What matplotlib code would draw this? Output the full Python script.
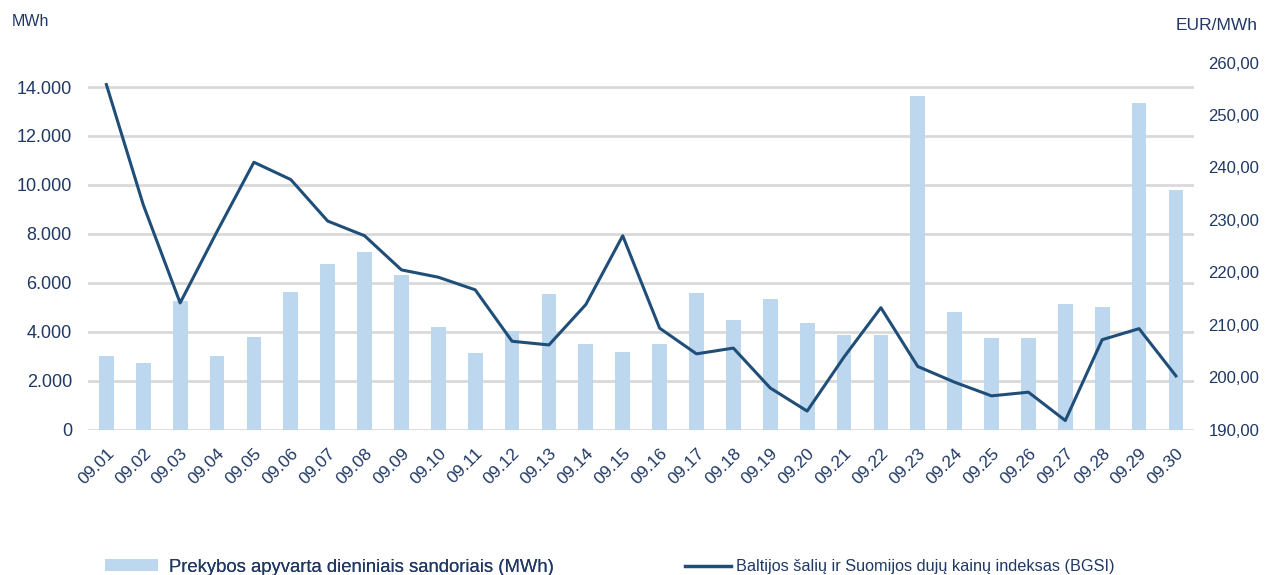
import matplotlib
matplotlib.use("Agg")
import matplotlib.pyplot as plt
from matplotlib.patches import Patch
from matplotlib.lines import Line2D
from matplotlib.ticker import FuncFormatter

plt.rcParams['font.family'] = ['Liberation Sans', 'DejaVu Sans']

dates = ["09.%02d" % d for d in range(1, 31)]
volume_mwh = [3000, 2750, 5270, 3000, 3800, 5630, 6780, 7250, 6310, 4210,
              3150, 4050, 5550, 3510, 3170, 3490, 5600, 4500, 5340, 4370,
              3880, 3880, 13650, 4820, 3750, 3770, 5140, 5030, 13340, 9810]
bgsi_price = [255.8, 232.9, 214.2, 227.8, 241.0, 237.7, 229.8, 227.0, 220.5, 219.1,
              216.7, 206.9, 206.2, 213.9, 227.0, 209.4, 204.5, 205.6, 198.0, 193.6,
              203.9, 213.3, 202.1, 199.1, 196.5, 197.2, 191.8, 207.2, 209.3, 200.3]

bar_label = "Prekybos apyvarta dieniniais sandoriais (MWh)"
line_label = "Baltijos šalių ir Suomijos dujų kainų indeksas (BGSI)"

txt = "#1F3864"
bar_c = "#BDD7EE"
line_c = "#1F4E79"
grid_c = "#D9D9D9"

fig = plt.figure(figsize=(12.69, 5.75), dpi=100)
ax = fig.add_axes([0.0693, 0.2522, 0.9412 - 0.0693, 0.8913 - 0.2522])
x = list(range(len(dates)))
ax.bar(x, volume_mwh, width=0.4, color=bar_c, zorder=2)
ax.set_xlim(-0.5, len(dates) - 0.5)
ax.set_ylim(0, 15000)
ax.set_yticks(range(0, 14001, 2000))
ax.yaxis.set_major_formatter(FuncFormatter(lambda v, p: f"{int(v):,}".replace(",", ".")))
ax.grid(axis='y', color=grid_c, linewidth=2, zorder=0)
ax.set_axisbelow(True)
for s in ax.spines.values():
    s.set_visible(False)
ax.tick_params(axis='both', length=0, labelcolor=txt)
ax.tick_params(axis='y', pad=11.5, labelsize=13)
ax.set_xticks(x)
ax.set_xticklabels(dates, rotation=45, ha='right', va='top', rotation_mode='anchor', fontsize=12.5)
ax.tick_params(axis='x', pad=11)

ax2 = ax.twinx()
ax2.plot(x, bgsi_price, color=line_c, linewidth=2.2, zorder=3)
ax2.set_ylim(190, 260)
ax2.set_yticks(range(190, 261, 10))
ax2.yaxis.set_major_formatter(FuncFormatter(lambda v, p: f"{v:.2f}".replace(".", ",")))
for s in ax2.spines.values():
    s.set_visible(False)
ax2.tick_params(axis='y', length=0, labelsize=12, labelcolor=txt, pad=10)

fig.text(12 / 1269, 1 - 22 / 575, "MWh", fontsize=11.5, color=txt, va='center', ha='left')
fig.text(1258 / 1269, 1 - 25 / 575, "EUR/MWh", fontsize=12.5, color=txt, va='center', ha='right')

leg1 = fig.legend([Patch(facecolor=bar_c, edgecolor='none')], [bar_label],
                  loc='center left', bbox_to_anchor=(105 / 1269, 1 - 567 / 575),
                  frameon=False, fontsize=13.3, labelcolor=txt, handlelength=2.85,
                  handleheight=0.55, handletextpad=0.6, borderpad=0, borderaxespad=0)
leg2 = fig.legend([Line2D([0], [0], color=line_c, linewidth=2.5)], [line_label],
                  loc='center left', bbox_to_anchor=(685 / 1269, 1 - 567 / 575),
                  frameon=False, fontsize=11.7, labelcolor=txt, handlelength=2.85,
                  handletextpad=0.3, borderpad=0, borderaxespad=0)
fig.add_artist(leg1)

fig.savefig("out.png", dpi=100)
